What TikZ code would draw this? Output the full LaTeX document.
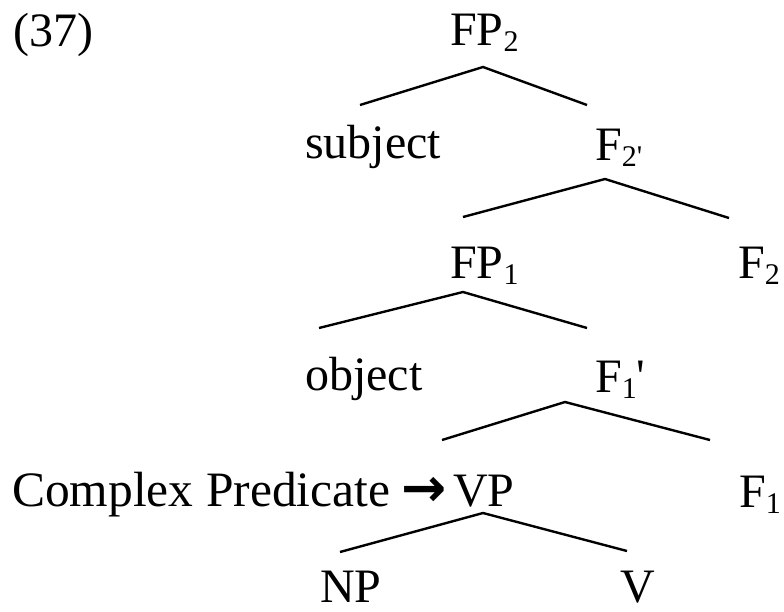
\documentclass[tikz,border=0pt]{standalone}
\usepackage{fontspec}
\setmainfont{Liberation Serif}[Ligatures=TeXOff]
\newfontfamily\arrowfont{DejaVu Sans}
\newcommand\sbs[1]{\raisebox{-6pt}{\fontsize{30}{30}\selectfont #1}}
\newcommand\prm{'}
\tikzset{
  lbl/.style={inner sep=0pt, anchor=base west, font=\fontsize{48}{56}\selectfont},
  branch/.style={line width=2.4pt, line join=miter, draw=black}
}
\begin{document}
\begin{tikzpicture}[x=1pt,y=-1pt]
\useasboundingbox (0,0) rectangle (784,611);
% labels
\node[lbl] (ex)   at (13,46)  {(37)};
\node[lbl] (fp2)  at (450,45) {FP\sbs{2}};
\node[lbl] (subj) at (305,158) {subject};
\node[lbl] (f2b)  at (595,160) {F\sbs{2\prm}};
\node[lbl] (fp1)  at (450,278) {FP\sbs{1}};
\node[lbl] (f2)   at (738,278) {F\sbs{2}};
\node[lbl] (obj)  at (305,390) {object};
\node[lbl] (f1b)  at (595,392) {F\sbs{1}\prm};
\node[lbl] (vp)   at (453,506) {VP};
\node[lbl, font=\fontsize{49.5}{56}\selectfont] (cp) at (12,506) {Complex Predicate};
\node[lbl, font=\arrowfont\bfseries\fontsize{54}{56}\selectfont] (arr) at (401,506) {→};
\node[lbl] (f1)   at (739,507) {F\sbs{1}};
\node[lbl] (np)   at (320,602) {NP};
\node[lbl] (v)    at (620,602) {V};
% branch points
\coordinate (t1) at (483,67);  \coordinate (l1) at (360,105); \coordinate (r1) at (587,105);
\coordinate (t2) at (605,179); \coordinate (l2) at (463,217); \coordinate (r2) at (729,218);
\coordinate (t3) at (463,292); \coordinate (l3) at (319,328); \coordinate (r3) at (587,328);
\coordinate (t4) at (565,402); \coordinate (l4) at (442,440); \coordinate (r4) at (710,440);
\coordinate (t5) at (483,513); \coordinate (l5) at (340,552); \coordinate (r5) at (627,551);
\draw[branch] (l1) -- (t1) -- (r1);
\draw[branch] (l2) -- (t2) -- (r2);
\draw[branch] (l3) -- (t3) -- (r3);
\draw[branch] (l4) -- (t4) -- (r4);
\draw[branch] (l5) -- (t5) -- (r5);
\end{tikzpicture}
\end{document}
